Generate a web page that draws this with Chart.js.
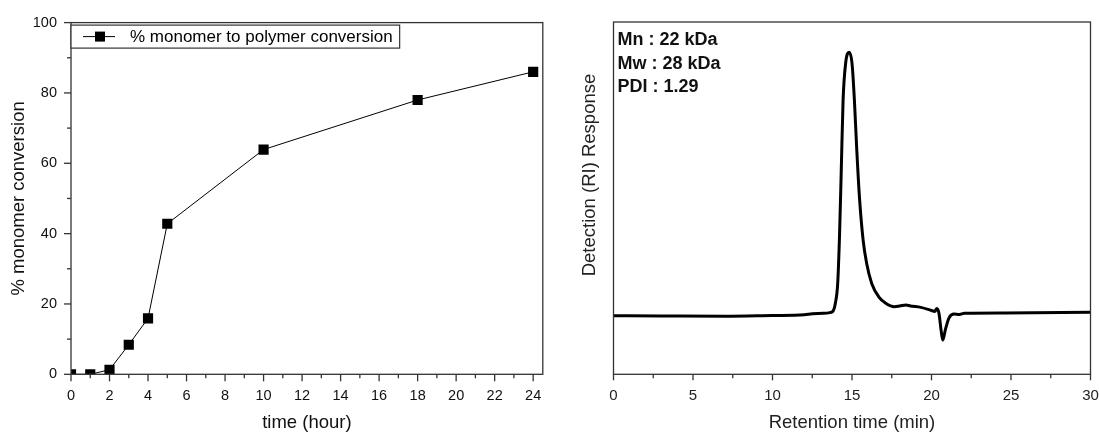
<!DOCTYPE html>
<html>
<head>
<meta charset="utf-8">
<script src="https://cdn.jsdelivr.net/npm/chart.js@4.4.1/dist/chart.umd.min.js"></script>
<style>
    html, body { margin: 0; padding: 0; background: #fff; }
    #wrap { position: relative; width: 1099px; height: 432px; overflow: hidden; }
    #chartConversion { position: absolute; left: 0; top: 0; }
    #chartGpc { position: absolute; left: 550px; top: 0; }
</style>
</head>
<body>
<div id="wrap">
    <canvas id="chartConversion" width="550" height="432"></canvas>
    <canvas id="chartGpc" width="549" height="432"></canvas>
</div>
<script>
// ---- Data: conversion vs time ----
const hours = [0, 1, 2, 3, 4, 5, 10, 18, 24];
const conversion = [0, 0, 1.3, 8.4, 15.9, 42.8, 63.9, 78.0, 86.0];
const conversionLabel = "% monomer to polymer conversion";

// ---- Data: GPC trace (RI response, arbitrary units) ----
const retentionTime = [
    0, 3, 7, 10, 12, 12.5, 13.2, 13.6, 13.8, 13.95,
    14.1, 14.22, 14.33, 14.44, 14.6, 14.82, 15.0, 15.15, 15.3, 15.48,
    15.7, 15.92, 16.24, 16.68, 17.12, 17.67, 18.0, 18.4, 18.67, 19.33,
    20.0, 20.2, 20.34, 20.47, 20.6, 20.71, 20.87, 21.09, 21.42, 21.75,
    22.07, 24.6, 30,
];
const riResponse = [
    16.6, 16.55, 16.5, 16.7, 16.9, 17.2, 17.3, 17.5, 17.9, 20.1,
    25.8, 40.0, 58.9, 77.9, 88.3, 91.4, 88.3, 77.9, 63.7, 49.5,
    38.1, 31.5, 25.8, 22.0, 20.2, 19.2, 19.4, 19.7, 19.4, 19.0,
    18.1, 17.8, 18.7, 17.3, 12.6, 9.7, 12.6, 15.9, 17.1, 17.0,
    17.3, 17.4, 17.6,
];
const gpcStats = ["Mn : 22 kDa", "Mw : 28 kDa", "PDI : 1.29"];
const gpcYTitle = "Detection (RI) Response";

// ---- Shared defaults ----
const FONT = "'Liberation Sans', Arial, sans-serif";
const AXIS = "#333";
Chart.defaults.font.family = FONT;
Chart.defaults.color = "#111";
Chart.defaults.animation = false;

// frame box + outward major/minor ticks (Origin style)
const frameTicks = {
    id: "frameTicks",
    afterDraw(chart, args, o) {
        const { ctx, chartArea: a, scales } = chart;
        ctx.save();
        ctx.strokeStyle = AXIS;
        ctx.lineWidth = 1.3;
        ctx.strokeRect(a.left, a.top, a.right - a.left, a.bottom - a.top);
        const marks = (scale, minor, major, horiz) => {
            for (let i = 0; ; i++) {
                const v = scale.min + i * minor;
                if (v > scale.max + 1e-9) break;
                const r = v / major;
                const len = Math.abs(r - Math.round(r)) < 1e-6 ? o.majorLen : o.minorLen;
                const p = scale.getPixelForValue(v);
                ctx.beginPath();
                if (horiz) { ctx.moveTo(p, a.bottom); ctx.lineTo(p, a.bottom + len); }
                else { ctx.moveTo(a.left, p); ctx.lineTo(a.left - len, p); }
                ctx.stroke();
            }
        };
        marks(scales.x, o.xMinor, o.xMajor, true);
        if (o.yMinor) marks(scales.y, o.yMinor, o.yMajor, false);
        ctx.restore();
    },
};

// legend drawn inside the plot, boxed
const boxLegend = {
    id: "boxLegend",
    afterDraw(chart) {
        const { ctx, chartArea: a } = chart;
        const ds = chart.data.datasets[0];
        const top = a.top + 2.5, h = 23, cy = top + h / 2;
        ctx.save();
        ctx.font = "17px " + FONT;
        const textX = a.left + 59;
        const w = ctx.measureText(ds.label).width;
        ctx.fillStyle = "#fff";
        ctx.fillRect(a.left, top, textX + w + 7 - a.left, h);
        ctx.strokeStyle = AXIS;
        ctx.lineWidth = 1.2;
        ctx.strokeRect(a.left, top, textX + w + 7 - a.left, h);
        ctx.strokeStyle = "#000";
        ctx.lineWidth = 1;
        ctx.beginPath();
        ctx.moveTo(a.left + 12, cy);
        ctx.lineTo(a.left + 44, cy);
        ctx.stroke();
        ctx.fillStyle = "#000";
        ctx.fillRect(a.left + 24, cy - 5, 10, 10);
        ctx.textBaseline = "middle";
        ctx.fillText(ds.label, textX, cy + 1);
        ctx.restore();
    },
};

// Mn / Mw / PDI text block + y title (sits above centre in the original)
const gpcText = {
    id: "gpcText",
    afterDraw(chart) {
        const { ctx, chartArea: a } = chart;
        ctx.save();
        ctx.font = "bold 18px " + FONT;
        ctx.fillStyle = "#111";
        ctx.textBaseline = "alphabetic";
        gpcStats.forEach((s, i) => ctx.fillText(s, a.left + 4, a.top + 23 + i * 23.5));
        ctx.translate(40, 175);
        ctx.rotate(-Math.PI / 2);
        ctx.font = "18.5px " + FONT;
        ctx.fillStyle = "#222";
        ctx.textAlign = "center";
        ctx.textBaseline = "middle";
        ctx.fillText(gpcYTitle, 0, 0);
        ctx.restore();
    },
};

// ---- A) Conversion vs time ----
new Chart(document.getElementById("chartConversion"), {
    type: "scatter",
    data: {
        datasets: [
            {
                label: conversionLabel,
                data: hours.map((h, i) => ({ x: h, y: conversion[i] })),
                showLine: true,
                borderColor: "#000",
                borderWidth: 1,
                pointStyle: "rect",
                pointRadius: 7.2,
                pointBackgroundColor: "#000",
                pointBorderColor: "#000",
                pointBorderWidth: 0,
                clip: 0,
            },
        ],
    },
    options: {
        responsive: false,
        layout: { padding: { top: 22.6, right: 3, bottom: 0, left: 0 } },
        plugins: {
            legend: { display: false },
            tooltip: { enabled: false },
            frameTicks: { xMinor: 1, xMajor: 2, yMinor: 10, yMajor: 20, majorLen: 7, minorLen: 4 },
        },
        scales: {
            x: {
                type: "linear",
                min: 0,
                max: 24.5,
                grid: { display: false, drawTicks: false },
                border: { display: false },
                ticks: { stepSize: 2, includeBounds: false, padding: 13, font: { size: 14.5 }, maxRotation: 0, autoSkip: false },
                title: { display: true, text: "time (hour)", font: { size: 18.5, lineHeight: 1 }, padding: { top: 0, bottom: 0 } },
                afterFit(s) { s.height = 57.7; s.paddingLeft = 0; s.paddingRight = 0; },
            },
            y: {
                min: 0,
                max: 100,
                grid: { display: false, drawTicks: false },
                border: { display: false },
                ticks: { stepSize: 20, padding: 14, font: { size: 14.5 } },
                title: { display: true, text: "% monomer conversion", font: { size: 18.5 }, padding: { top: 8, bottom: 0 } },
                afterFit(s) { s.width = 71; s.paddingTop = 0; s.paddingBottom = 0; },
            },
        },
    },
    plugins: [frameTicks, boxLegend],
});

// ---- B) GPC trace ----
new Chart(document.getElementById("chartGpc"), {
    type: "scatter",
    data: {
        datasets: [
            {
                label: "RI",
                data: retentionTime.map((t, i) => ({ x: t, y: riResponse[i] })),
                showLine: true,
                borderColor: "#000",
                borderWidth: 3,
                pointRadius: 0,
                cubicInterpolationMode: "monotone",
            },
        ],
    },
    options: {
        responsive: false,
        layout: { padding: { top: 22, right: 8.5, bottom: 0, left: 0 } },
        plugins: {
            legend: { display: false },
            tooltip: { enabled: false },
            frameTicks: { xMinor: 2.5, xMajor: 5, yMinor: null, majorLen: 6, minorLen: 4 },
        },
        scales: {
            x: {
                type: "linear",
                min: 0,
                max: 30,
                grid: { display: false, drawTicks: false },
                border: { display: false },
                ticks: { stepSize: 5, padding: 13, font: { size: 15 }, color: "#222", maxRotation: 0, autoSkip: false },
                title: { display: true, text: "Retention time (min)", font: { size: 18.5, lineHeight: 1 }, color: "#222", padding: { top: 0, bottom: 0 } },
                afterFit(s) { s.height = 57.7; s.paddingLeft = 0; s.paddingRight = 0; },
            },
            y: {
                min: 0,
                max: 100,
                grid: { display: false, drawTicks: false },
                border: { display: false },
                ticks: { display: false },
                title: { display: false },
                afterFit(s) { s.width = 63.5; s.paddingTop = 0; s.paddingBottom = 0; },
            },
        },
    },
    plugins: [frameTicks, gpcText],
});
</script>
</body>
</html>
